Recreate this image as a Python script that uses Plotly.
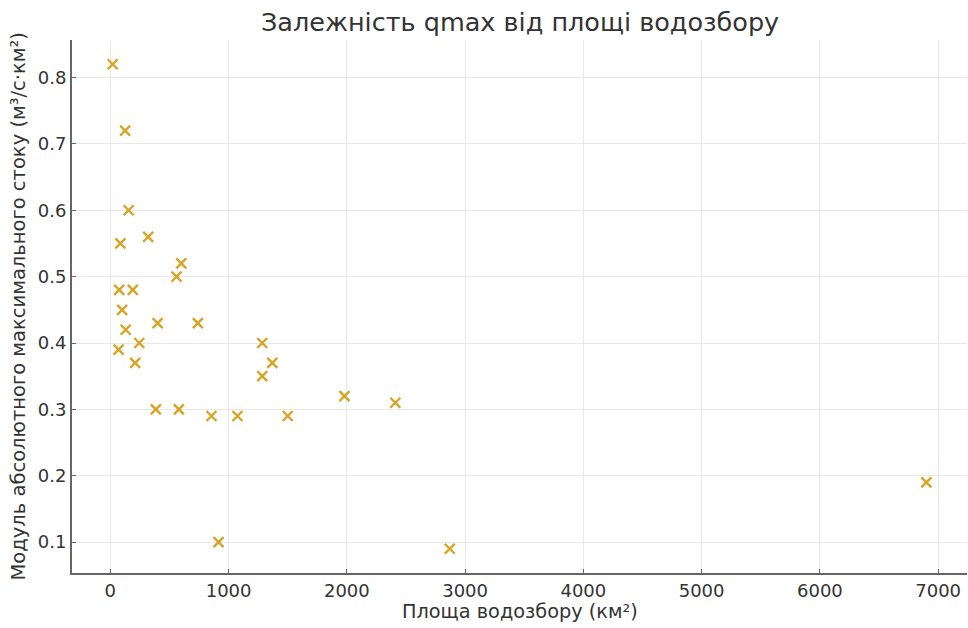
import plotly.graph_objects as go

area_km2 = [20, 125, 155, 85, 320, 600, 560, 75, 190, 100, 130, 400, 740, 245, 70, 210,
            1285, 1370, 1285, 385, 580, 855, 1075, 1500, 1980, 2410, 915, 2870, 6900]
qmax = [0.82, 0.72, 0.60, 0.55, 0.56, 0.52, 0.50, 0.48, 0.48, 0.45, 0.42, 0.43, 0.43, 0.40,
        0.39, 0.37, 0.40, 0.37, 0.35, 0.30, 0.30, 0.29, 0.29, 0.29, 0.32, 0.31, 0.10, 0.09, 0.19]

x_ticks = [0, 1000, 2000, 3000, 4000, 5000, 6000, 7000]
y_ticks = [0.1, 0.2, 0.3, 0.4, 0.5, 0.6, 0.7, 0.8]

title_text = "Залежність qmax від площі водозбору"
x_title = "Площа водозбору (км²)"
y_title = "Модуль абсолютного максимального стоку (м³/с·км²)"

font_family = "DejaVu Sans"
text_color = "#333333"

W, H = 968, 628
L, R, T, B = 72, 1, 40, 55
PW, PH = W - L - R, H - T - B

fig = go.Figure()
fig.add_trace(go.Scatter(
    x=area_km2, y=qmax, mode="markers",
    marker=dict(symbol="x-thin-open", size=10, color="#D6A526",
                line=dict(width=2.4, color="#D6A526")),
    showlegend=False,
))

fig.update_layout(
    width=W, height=H,
    margin=dict(l=L, r=R, t=T, b=B),
    paper_bgcolor="white", plot_bgcolor="white",
    font=dict(family=font_family, color=text_color, size=18),
    annotations=[
        dict(text=title_text, xref="paper", yref="paper",
             x=0.5, y=1 + (T - 22) / PH, xanchor="center", yanchor="middle",
             showarrow=False, font=dict(size=25.5, color=text_color)),
        dict(text=x_title, xref="paper", yref="paper",
             x=((403 + 637) / 2 - L) / PW, y=-(611 - (H - B)) / PH,
             xanchor="center", yanchor="middle", showarrow=False,
             font=dict(size=19.3, color=text_color)),
        dict(text=y_title, xref="paper", yref="paper",
             x=-(L - 18) / PW, y=0.5, textangle=-90,
             xanchor="center", yanchor="middle", showarrow=False,
             font=dict(size=19.5, color=text_color)),
    ],
)

fig.update_xaxes(
    range=[-324, 7244], tickvals=x_ticks, ticktext=[str(v) for v in x_ticks],
    showgrid=True, gridcolor="#e8e8e8", gridwidth=1,
    showline=True, linecolor="#666666", linewidth=2,
    ticks="inside", ticklen=4, tickcolor="#666666",
    zeroline=False, automargin=False, tickfont=dict(size=18, color=text_color),
)
fig.update_yaxes(
    range=[0.0535, 0.8565], tickvals=y_ticks, ticktext=[f"{v:.1f}" for v in y_ticks],
    showgrid=True, gridcolor="#e8e8e8", gridwidth=1,
    showline=True, linecolor="#666666", linewidth=2,
    ticks="inside", ticklen=4, tickcolor="#666666",
    zeroline=False, automargin=False, tickfont=dict(size=18, color=text_color),
)

fig.write_html(
    "out.html",
    config={"displayModeBar": False},
    post_script="document.body.style.margin='0';document.body.style.overflow='hidden';",
)
